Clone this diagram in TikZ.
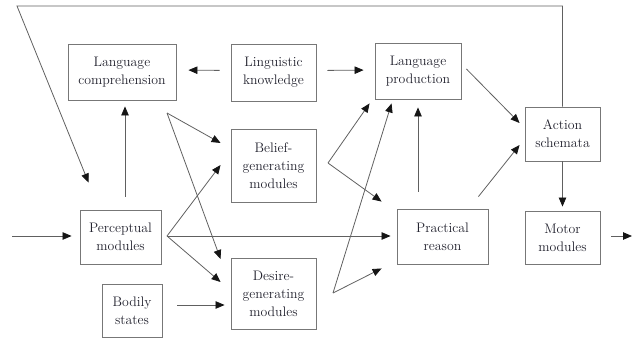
\documentclass[tikz,border=0pt]{standalone}
\usetikzlibrary{arrows.meta}
\definecolor{linec}{HTML}{606060}
\definecolor{boxc}{HTML}{777777}
\definecolor{txtc}{HTML}{22222E}
\definecolor{tipc}{HTML}{151515}
\begin{document}
\begin{tikzpicture}[x=1pt,y=1pt,
  box/.style={draw=boxc, line width=0.9pt, inner sep=0pt, align=center,
    text=txtc, font=\fontsize{13.8}{18}\selectfont},
  arr/.style={draw=linec, line width=0.8pt, -{Triangle[length=9pt,width=7.5pt,color=tipc]}},
  ln/.style={draw=linec, line width=0.8pt}]
\useasboundingbox (0,0) rectangle (636,341);

% boxes
\node[box, minimum width=108pt, minimum height=56pt] (LC) at (122,269) {Language\\comprehension};
\node[box, minimum width=85pt, minimum height=57pt] (LK) at (273.5,268.5) {Linguistic\\knowledge};
\node[box, minimum width=86pt, minimum height=56pt] (LP) at (418,270) {Language\\production};
\node[box, minimum width=75pt, minimum height=54pt] (AS) at (562.5,207) {Action\\schemata};
\node[box, minimum width=85pt, minimum height=73pt] (BG) at (273.5,175.5) {Belief-\\generating\\modules};
\node[box, minimum width=85pt, minimum height=71pt] (DG) at (273.5,47.5) {Desire-\\generating\\modules};
\node[box, minimum width=81pt, minimum height=54pt] (PM) at (120.5,104) {Perceptual\\modules};
\node[box, minimum width=60pt, minimum height=53pt] (BS) at (132,30.5) {Bodily\\states};
\node[box, minimum width=91pt, minimum height=55pt] (PR) at (442.5,104.5) {Practical\\reason};
\node[box, minimum width=75pt, minimum height=53pt] (MM) at (562.5,103.5) {Motor\\modules};

% free ends and branching points
\coordinate (in) at (12,105);
\coordinate (out) at (632,105);
\coordinate (fb) at (17,335);
\coordinate (hubL) at (167,228);
\coordinate (hubP) at (167,105);
\coordinate (hubB) at (328,178);
\coordinate (hubD) at (333,48);

% input and output
\draw[arr, shorten >=8pt] (in) -- ([yshift=1pt]PM.west);
\draw[arr, shorten <=11pt] ([yshift=1.5pt]MM.east) -- (out);

% language
\draw[arr, shorten <=13pt, shorten >=6pt] ([xshift=4.5pt]PM.north) -- ([xshift=3pt]LC.south);
\draw[arr, shorten <=11pt, shorten >=12pt] ([yshift=2pt]LK.west) -- ([yshift=2pt]LC.east);
\draw[arr, shorten <=11pt, shorten >=11pt] ([yshift=2pt]LK.east) -- ([yshift=1pt]LP.west);
\draw[arr] ([shift={(5,2)}]LP.east) -- ([shift={(-5,11)}]AS.west);
\draw[arr] ([shift={(-10,12)}]PR.north east) -- ([shift={(-5,-11)}]AS.west);
\draw[arr, shorten >=4pt] (AS.south) -- (MM.north);
\draw[arr, shorten <=17pt, shorten >=8pt] ([xshift=-24.5pt]PR.north) -- ([xshift=0pt]LP.south);

% feedback loop
\draw[arr] (AS.north) |- (fb) -- ([shift={(9,27)}]PM.north west);

% fans into the generating modules
\draw[arr] (hubL) -- ([shift={(-10,22.5)}]BG.west);
\draw[arr] (hubL) -- ([shift={(-10,34.5)}]DG.west);
\draw[arr] (hubP) -- ([shift={(-10,0.5)}]BG.west);
\draw[arr] (hubP) -- ([shift={(-10,11.5)}]DG.west);
\draw[arr] (hubP) -- ([shift={(-6,0.5)}]PR.west);
\draw[arr, shorten <=15pt, shorten >=6pt] ([yshift=5.5pt]BS.east) -- ([yshift=-11.5pt]DG.west);

% fans out of the generating modules
\draw[arr] (hubB) -- ([shift={(-5,-4)}]LP.south west);
\draw[arr] (hubB) -- ([shift={(-15,7)}]PR.north west);
\draw[arr] (hubD) -- ([shift={(17,-4)}]LP.south west);
\draw[arr] (hubD) -- ([shift={(-15,-4)}]PR.south west);
\end{tikzpicture}
\end{document}
